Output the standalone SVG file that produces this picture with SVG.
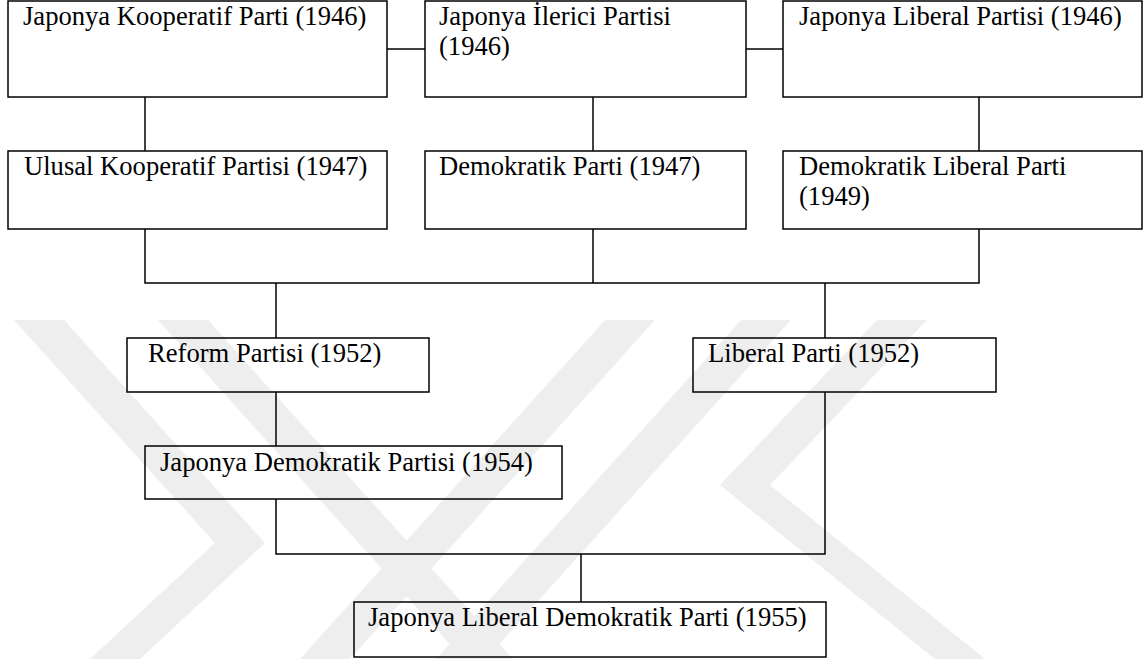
<svg xmlns="http://www.w3.org/2000/svg" width="1143" height="659" viewBox="0 0 1143 659">
  <style>
    .box { fill: none; stroke: #000; stroke-width: 1.5; }
    .lbl { font-family: "Liberation Serif", "Times New Roman", serif; font-size: 26.6px; fill: #000; }
    .conn { fill: none; stroke: #000; stroke-width: 1.5; }
    .wm { fill: #eeeeee; }
  </style>
  <rect x="0" y="0" width="1143" height="659" fill="#ffffff"/>
  <g id="watermark">
    <polygon class="wm" points="14,320 64,320 265,543 140,659 90,659 215,543"/>
    <polygon class="wm" points="158,320 208,320 513,659 463,659"/>
    <polygon class="wm" points="605,320 655,320 350,659 300,659"/>
    <polygon class="wm" points="741,320 791,320 486,659 436,659"/>
    <polygon class="wm" points="877,320 927,320 770,485 985,659 935,659 720,485"/>
  </g>
  <g id="connectors">
    <line class="conn" x1="387" y1="49" x2="425" y2="49"/>
    <line class="conn" x1="746" y1="49" x2="783" y2="49"/>
    <line class="conn" x1="145" y1="97" x2="145" y2="151"/>
    <line class="conn" x1="593" y1="97" x2="593" y2="151"/>
    <line class="conn" x1="979" y1="97" x2="979" y2="151"/>
    <polyline class="conn" points="145,229 145,283 979,283 979,229"/>
    <line class="conn" x1="593" y1="229" x2="593" y2="283"/>
    <line class="conn" x1="276" y1="283" x2="276" y2="338"/>
    <line class="conn" x1="825" y1="283" x2="825" y2="338"/>
    <line class="conn" x1="276" y1="392" x2="276" y2="446"/>
    <polyline class="conn" points="276,499 276,554 825,554 825,392"/>
    <line class="conn" x1="581" y1="554" x2="581" y2="602"/>
  </g>
  <g id="n1">
    <rect class="box" x="8" y="1" width="379" height="96"/>
    <text class="lbl" x="23" y="25">Japonya Kooperatif Parti (1946)</text>
  </g>
  <g id="n2">
    <rect class="box" x="425" y="1" width="321" height="96"/>
    <text class="lbl" x="439" y="25">Japonya İlerici Partisi</text>
    <text class="lbl" x="439" y="55">(1946)</text>
  </g>
  <g id="n3">
    <rect class="box" x="783" y="1" width="359" height="96"/>
    <text class="lbl" x="799" y="25">Japonya Liberal Partisi (1946)</text>
  </g>
  <g id="n4">
    <rect class="box" x="8" y="151" width="379" height="78"/>
    <text class="lbl" x="24" y="175">Ulusal Kooperatif Partisi (1947)</text>
  </g>
  <g id="n5">
    <rect class="box" x="425" y="151" width="321" height="78"/>
    <text class="lbl" x="439" y="175">Demokratik Parti (1947)</text>
  </g>
  <g id="n6">
    <rect class="box" x="783" y="151" width="359" height="78"/>
    <text class="lbl" x="799" y="175">Demokratik Liberal Parti</text>
    <text class="lbl" x="799" y="205">(1949)</text>
  </g>
  <g id="n7">
    <rect class="box" x="127" y="338" width="302" height="54"/>
    <text class="lbl" x="148" y="362">Reform Partisi (1952)</text>
  </g>
  <g id="n8">
    <rect class="box" x="693" y="338" width="303" height="54"/>
    <text class="lbl" x="708" y="362">Liberal Parti (1952)</text>
  </g>
  <g id="n9">
    <rect class="box" x="145" y="446" width="417" height="53"/>
    <text class="lbl" x="160" y="471">Japonya Demokratik Partisi (1954)</text>
  </g>
  <g id="n10">
    <rect class="box" x="354" y="602" width="472" height="55"/>
    <text class="lbl" x="368" y="626">Japonya Liberal Demokratik Parti (1955)</text>
  </g>
</svg>
